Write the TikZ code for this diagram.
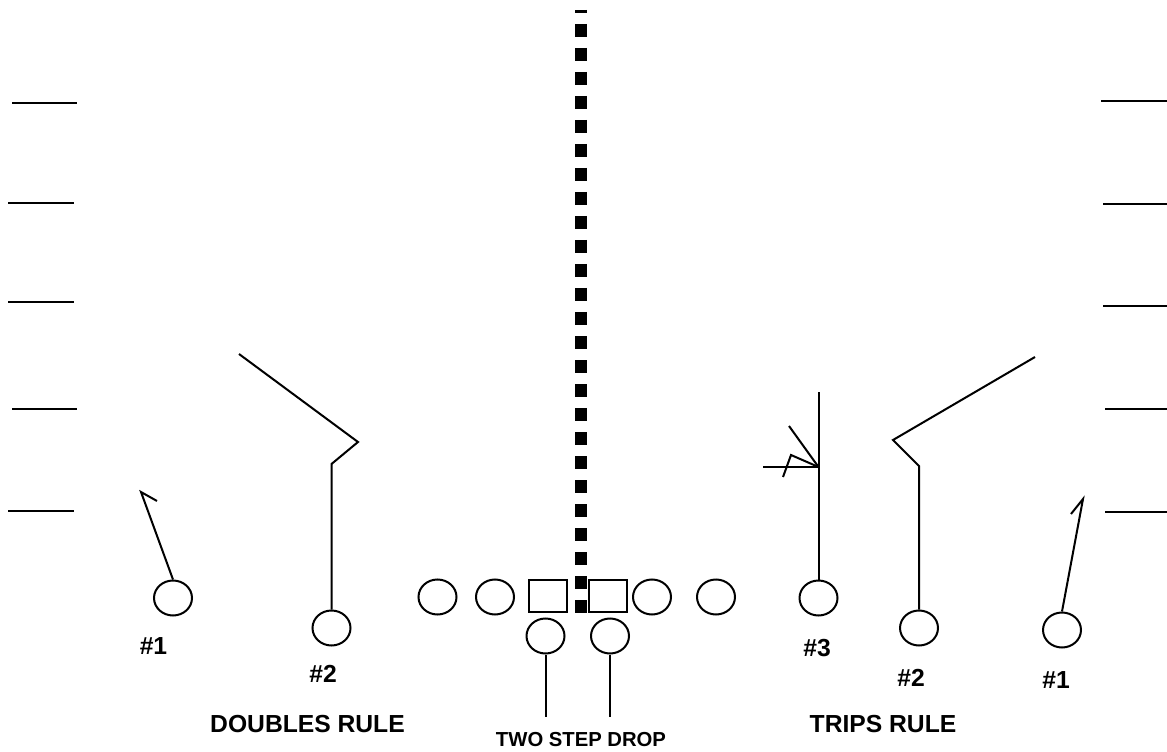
\documentclass[tikz,border=0pt]{standalone}
\usepackage{fontspec}
\setmainfont{Liberation Sans}
\usetikzlibrary{shapes.geometric}
\begin{document}
\begin{tikzpicture}[x=0.75pt,y=-0.75pt,line width=1.5pt,
  player/.style={ellipse,draw,line width=1.5pt,minimum width=28.5pt,minimum height=26.25pt,inner sep=0pt},
  lineman/.style={rectangle,draw,line width=1.5pt,minimum width=28.5pt,minimum height=24pt,inner sep=0pt},
  route/.style={line width=1.5pt,line join=miter},
  hashmark/.style={line width=1.5pt},
  lbl/.style={font=\fontsize{18.5pt}{20pt}\selectfont\bfseries,inner sep=0pt},
  smalllbl/.style={font=\fontsize{15.2pt}{17pt}\selectfont\bfseries,inner sep=0pt},
  ballline/.style={line width=9pt,dash pattern=on 9.75pt off 8.25pt,dash phase=7.5pt}]
\useasboundingbox (0,0) rectangle (1167,752);

% hash marks
\draw[hashmark] (12,102.7) -- (77,102.7);
\draw[hashmark] (8,202.7) -- (74,202.7);
\draw[hashmark] (8,302) -- (74,302);
\draw[hashmark] (12,408.7) -- (77,408.7);
\draw[hashmark] (8,510.7) -- (74,510.7);
\draw[hashmark] (1101,100.7) -- (1167,100.7);
\draw[hashmark] (1103,204) -- (1167,204);
\draw[hashmark] (1103,306) -- (1167,306);
\draw[hashmark] (1105,408.7) -- (1167,408.7);
\draw[hashmark] (1105,512) -- (1167,512);

% ball line
\coordinate (bltop) at (580.5,10);
\coordinate (blbot) at (580.5,613);
\draw[ballline] (bltop) -- (blbot);

% offensive line
\node[player] (lt) at (437.5,597) {};
\node[player] (lg) at (495,597) {};
\node[lineman] (c1) at (548,596) {};
\node[lineman] (c2) at (607.5,596) {};
\node[player] (rg) at (652,597) {};
\node[player] (rt) at (716,597) {};
\node[player] (b1) at (545.5,636) {};
\node[player] (b2) at (610,636) {};
\coordinate (b1e) at (545.5,717);
\coordinate (b2e) at (610,717);
\draw[route] (b1.south) -- (b1e);
\draw[route] (b2.south) -- (b2e);

% left receivers
\node[player] (L1) at (173,598) {};
\node[player] (L2) at (331.5,628) {};
\coordinate (L1a) at (141,492);
\coordinate (L1b) at (157,501);
\draw[route] (L1.north) -- (L1a) -- (L1b);
\coordinate (L2a) at (331.5,464);
\coordinate (L2b) at (358,442);
\coordinate (L2c) at (239,354);
\draw[route] (L2.north) -- (L2a) -- (L2b) -- (L2c);

% right receivers
\node[player] (R3) at (818.5,598) {};
\node[player] (R2) at (919,628) {};
\node[player] (R1) at (1062,630) {};
\coordinate (R3top) at (818.5,392);
\coordinate (R3k) at (818.5,467);
\coordinate (R3h) at (763,467);
\coordinate (R3d) at (789,426);
\coordinate (R3z1) at (783,477);
\coordinate (R3z2) at (791,455);
\draw[route] (R3.north) -- (R3top);
\draw[route] (R3k) -- (R3h);
\draw[route] (R3k) -- (R3d);
\draw[route] (R3z1) -- (R3z2) -- (R3k);
\coordinate (R2a) at (919,466);
\coordinate (R2b) at (893,440);
\coordinate (R2c) at (1035,357);
\draw[route] (R2.north) -- (R2a) -- (R2b) -- (R2c);
\coordinate (R1a) at (1083,499);
\coordinate (R1b) at (1071,514);
\draw[route] (R1.north) -- (R1a) -- (R1b);

% labels
\node[lbl] (tL1) at (153.5,646.5) {\#1};
\node[lbl] (tL2) at (323,674) {\#2};
\node[lbl] (tR3) at (817,648.5) {\#3};
\node[lbl] (tR2) at (911,677.5) {\#2};
\node[lbl] (tR1) at (1056,680.5) {\#1};
\node[lbl] (tdbl) at (307.5,724) {DOUBLES RULE};
\node[lbl] (ttrp) at (883,724) {TRIPS RULE};
\node[smalllbl] (tdrop) at (581,740) {TWO STEP DROP};
\end{tikzpicture}
\end{document}
